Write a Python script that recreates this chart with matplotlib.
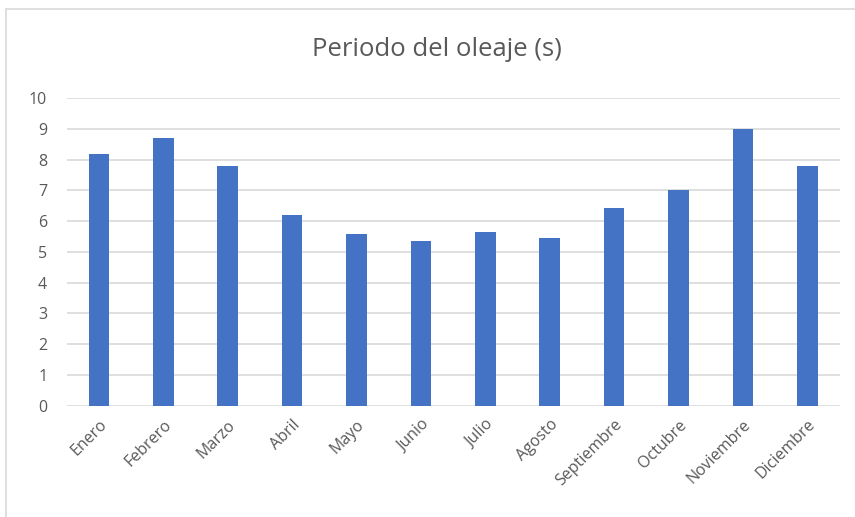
import matplotlib.pyplot as plt
from matplotlib.patches import Rectangle

meses = ["Enero", "Febrero", "Marzo", "Abril", "Mayo", "Junio", "Julio",
         "Agosto", "Septiembre", "Octubre", "Noviembre", "Diciembre"]
periodo = [8.2, 8.7, 7.8, 6.2, 5.6, 5.35, 5.65, 5.47, 6.43, 7.0, 9.0, 7.78]
yticks = list(range(0, 11))

plt.rcParams['font.family'] = ['Open Sans', 'DejaVu Sans']

fig = plt.figure(figsize=(8.55, 5.17), dpi=100)
ax = fig.add_axes([0.078, 0.2153, 0.904, 0.5947])

# chart frame
fig.patches.append(Rectangle((6 / 855, -0.1), 1.0, 1 - 9 / 517 + 0.1,
                             transform=fig.transFigure, fill=False,
                             edgecolor="#d9d9d9", linewidth=1.2))

x = range(len(meses))
ax.bar(x, periodo, width=0.32, color="#4472C4", zorder=3)

ax.set_xlim(-0.5, len(meses) - 0.5)
ax.set_ylim(0, 10)
ax.set_yticks(yticks)
ax.set_xticks(list(x))
ax.set_xticklabels(meses, rotation=45, ha="right", rotation_mode="anchor")
ax.tick_params(axis="both", length=0, colors="#595959", labelsize=11.5)
ax.tick_params(axis="y", pad=14)
ax.tick_params(axis="x", pad=8)
ax.grid(axis="y", color="#d9d9d9", linewidth=1.2, zorder=0)
for s in ax.spines.values():
    s.set_visible(False)

fig.text(0.511, 0.905, "Periodo del oleaje (s)", ha="center", va="center",
         fontsize=18.5, color="#595959")

fig.savefig("out.png", dpi=100)
